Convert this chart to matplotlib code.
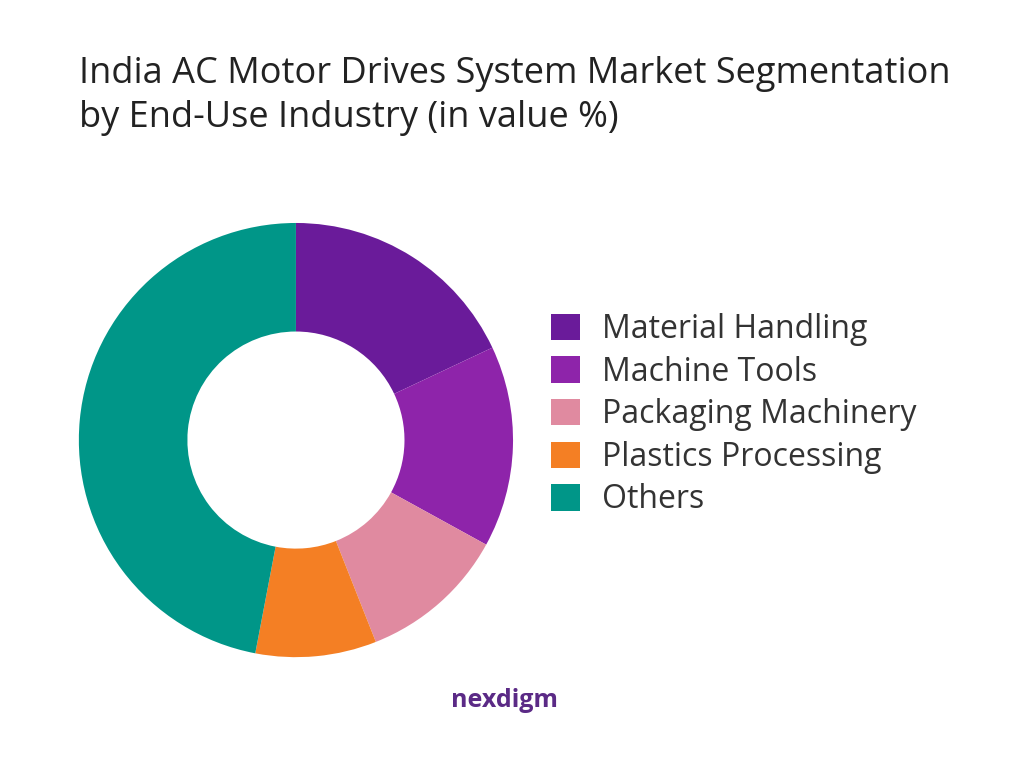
import matplotlib
matplotlib.use("Agg")
import matplotlib.pyplot as plt
from matplotlib.patches import Patch

labels = ["Material Handling", "Machine Tools", "Packaging Machinery", "Plastics Processing", "Others"]
values = [18, 15, 11, 9, 47]
colors = ["#6A1B9A", "#8E24AA", "#E08AA0", "#F47F24", "#009688"]

plt.rcParams['font.family'] = ['Open Sans', 'DejaVu Sans']
fig = plt.figure(figsize=(10.24, 7.68), dpi=100)
fig.text(0.077, 0.875, "India AC Motor Drives System Market Segmentation\nby End-Use Industry (in value %)",
         fontsize=26, color="#222222", va="center", linespacing=1.32)

w, h = 0.53, 0.707
ax = fig.add_axes([0.289 - w / 2, 0.427 - h / 2, w, h])
ax.pie(values, colors=colors, startangle=90, counterclock=False,
       wedgeprops=dict(width=0.5, edgecolor="none"))
ax.set_aspect("equal")

handles = [Patch(facecolor=c, label=l) for c, l in zip(colors, labels)]
fig.legend(handles=handles, loc="center left", bbox_to_anchor=(0.51, 0.46), frameon=False,
           fontsize=23, handlelength=0.9, handleheight=0.9, labelspacing=0.3, handletextpad=0.7,
           labelcolor="#333333")

fig.text(0.44, 0.088, "nexdigm", fontsize=18, color="#5B2A86", fontweight="bold", va="center")
fig.savefig("out.png", dpi=100, facecolor="white")
